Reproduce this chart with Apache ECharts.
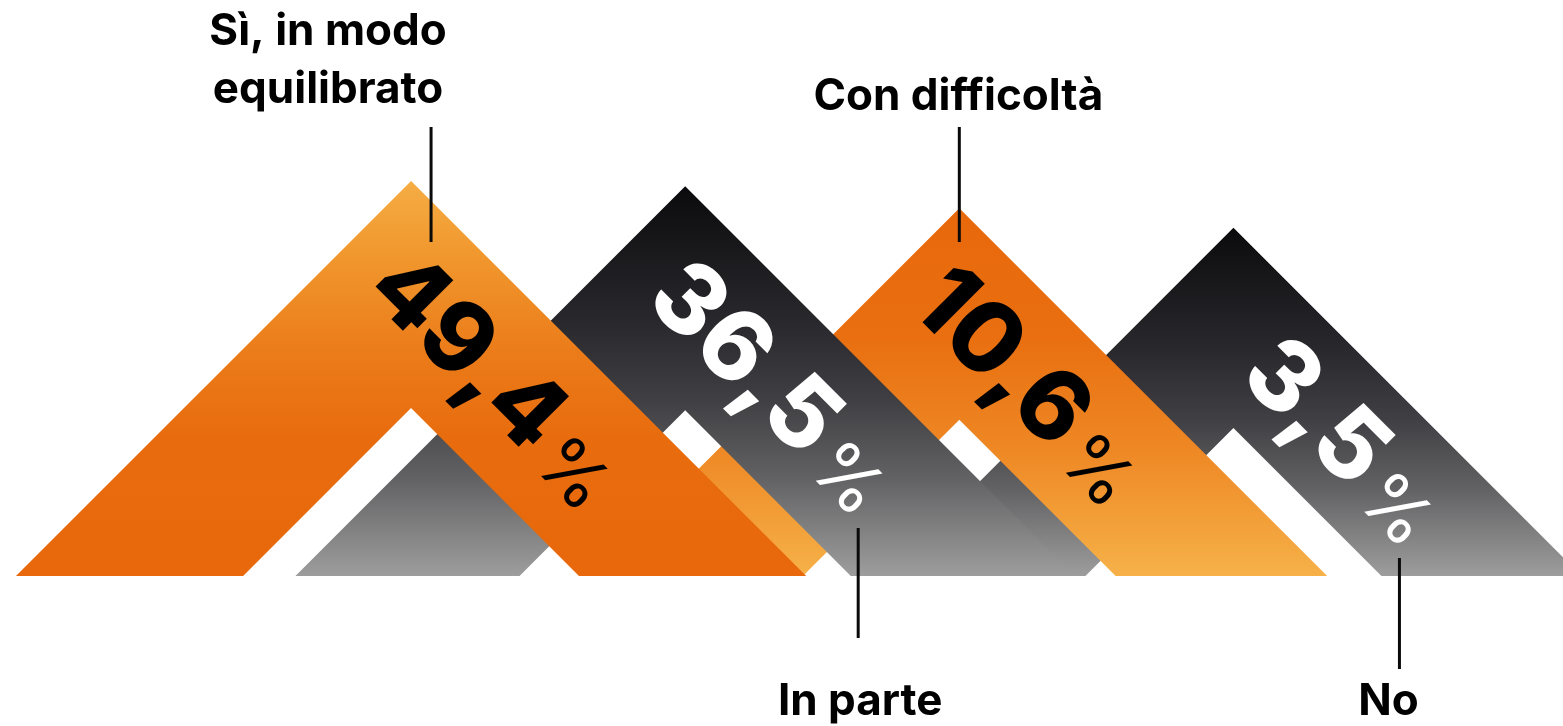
<!DOCTYPE html>
<html>
<head>
<meta charset="utf-8">
<style>
  html, body { margin: 0; padding: 0; background: #fff; }
  #chart { width: 1563px; height: 726px; }
</style>
<script src="https://cdn.jsdelivr.net/npm/echarts@6/dist/echarts.min.js"></script>
</head>
<body>
<div id="chart"></div>
<script>
// risposte e percentuali
const categories = ['Sì, in modo\nequilibrato', 'In parte', 'Con difficoltà', 'No']
const values = [49.4, 36.5, 10.6, 3.5]

// gradienti delle montagne (arancio chiaro in alto, grigio, arancio scuro in alto, grigio)
const orangeUp = [[0, '#F5AD44'], [0.2, '#F0962C'], [0.45, '#EB7A18'], [0.65, '#E86C0E'], [1, '#E8680B']]
const orangeDown = [[0, '#E8680B'], [0.35, '#E96F10'], [0.65, '#EE8724'], [1, '#F6B148']]
const gray = [[0, '#0B0B0E'], [0.35, '#29282C'], [0.55, '#403F43'], [0.75, '#626264'], [1, '#9D9D9D']]
const fills = [orangeUp, gray, orangeDown, gray]
const textColors = ['#000', '#fff', '#000', '#fff']

// richiami: linea verticale + etichetta (pixel, relativi al vertice)
const callouts = [
  { dx: 20, y1: 127, y2: 242, tdx: -103, ty: 61 },
  { dx: 173, y1: 528, y2: 638, tdx: 2, ty: 702 },
  { dx: 0, y1: 127, y2: 242, tdx: -1, ty: 97 },
  { dx: 166, y1: 558, y2: 669, tdx: -11, ty: 702 }
]
const slide = [0, 0, -54, -10]
const INNER = 0.425

const grad = (stops) => new echarts.graphic.LinearGradient(0, 0, 0, 1,
  stops.map(s => ({ offset: s[0], color: s[1] })))

function renderItem (params, api) {
  const i = params.dataIndex
  const peak = api.coord([api.value(0), api.value(1)])
  const cs = params.coordSys
  const base = cs.y + cs.height
  const cx = peak[0]
  const top = peak[1]
  const h = base - top
  const hi = h * INNER

  // posizione della percentuale lungo il lato destro
  const sApex = cx + top
  const dOut = cx - top
  const dIn = cx - (base - hi)
  const s = sApex + 505 + slide[i]
  const d = dIn + 0.55 * (dOut - dIn)
  const label = values[i].toFixed(1).replace('.', ',')
  const c = callouts[i]

  return {
    type: 'group',
    children: [
      {
        type: 'polygon',
        z2: 10 - i,
        shape: {
          points: [[cx - h, base], [cx, top], [cx + h, base], [cx + hi, base], [cx, base - hi], [cx - hi, base]]
        },
        style: { fill: grad(fills[i]) }
      },
      {
        type: 'text',
        z2: 40,
        x: (s + d) / 2,
        y: (s - d) / 2,
        rotation: -Math.PI / 4,
        style: {
          text: '{n|' + label + '}{p|%}',
          align: 'right',
          verticalAlign: 'middle',
          fill: textColors[i],
          rich: {
            n: { fontFamily: 'Inter', fontWeight: 800, fontSize: 98, lineHeight: 118, verticalAlign: 'bottom', fill: textColors[i] },
            p: { fontFamily: 'Inter', fontWeight: 400, fontSize: 72, lineHeight: 99, verticalAlign: 'bottom', padding: [0, 0, 0, 10], fill: textColors[i] }
          }
        }
      },
      {
        type: 'line',
        z2: 50,
        shape: { x1: cx + c.dx, y1: c.y1, x2: cx + c.dx, y2: c.y2 },
        style: { stroke: '#0a0a0a', lineWidth: 3 }
      },
      {
        type: 'text',
        z2: 50,
        x: cx + c.dx + c.tdx,
        y: c.ty,
        style: {
          text: categories[i],
          fontFamily: 'Inter',
          fontWeight: 700,
          fontSize: 44,
          lineHeight: 58,
          align: 'center',
          verticalAlign: 'middle',
          fill: '#000'
        }
      }
    ]
  }
}

const chart = echarts.init(document.getElementById('chart'))
chart.setOption({
  animation: false,
  grid: { left: 274, right: 192.5, top: 168.4, bottom: 150 },
  xAxis: { type: 'category', data: categories, show: false },
  yAxis: { type: 'log', min: 1e-8, max: 100, show: false },
  series: [
    {
      type: 'custom',
      clip: false,
      renderItem: renderItem,
      data: values.map((v, i) => [i, v])
    }
  ]
})
</script>
</body>
</html>
